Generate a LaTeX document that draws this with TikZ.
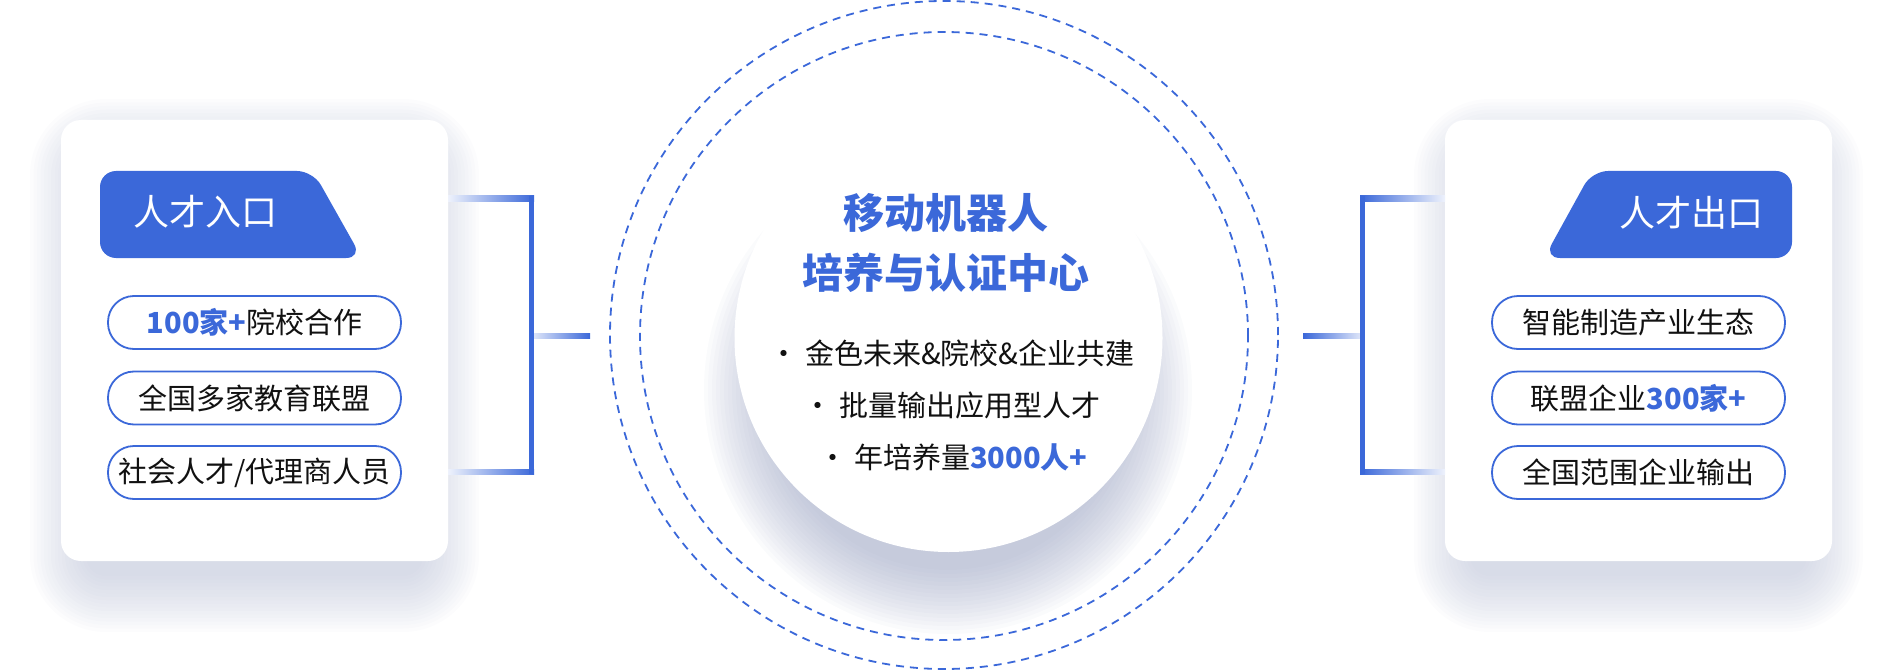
\documentclass[tikz,border=0pt]{standalone}
\usepackage{fontspec}
\setmainfont{Noto Sans CJK SC}
\definecolor{hl}{HTML}{3B68D9}
\definecolor{pale}{HTML}{EEF2FC}
\definecolor{cardshadow}{RGB}{176,184,208}
\definecolor{hubshadow}{RGB}{140,150,185}
\definecolor{ink}{HTML}{111111}
\begin{document}
\begin{tikzpicture}[x=1pt,y=-1pt,
  card/.style={rectangle, fill=white, rounded corners=20pt, minimum width=387pt, minimum height=441pt, inner sep=0pt},
  tabtext/.style={text=white, font=\fontsize{36}{40}\selectfont, inner sep=0pt},
  pill/.style={rectangle, draw=hl, line width=1.8pt, fill=white, rounded corners=26pt, minimum width=293pt, minimum height=53pt, inner sep=0pt, text=ink, font=\fontsize{29}{34}\selectfont},
  ring/.style={circle, draw=hl, line width=1.8pt, dash pattern=on 8pt off 6pt, inner sep=0pt},
  titletext/.style={text=hl, font=\fontsize{41}{48}\selectfont\bfseries, inner sep=0pt},
  bullet/.style={text=ink, font=\fontsize{29}{34}\selectfont, inner sep=0pt},
  num/.style={}]
\useasboundingbox (0,0) rectangle (1894,671);

% ---- soft shadows of the two cards
\foreach \k [evaluate=\k as \e using \k*3.5, evaluate=\k as \r using 20+\k*3.5] in {0,...,16}{
  \fill[cardshadow, fill opacity=0.04, rounded corners=\r pt] ({86-\e},{155-\e}) rectangle ({423+\e},{576+\e});
  \fill[cardshadow, fill opacity=0.04, rounded corners=\r pt] ({1470-\e},{155-\e}) rectangle ({1807+\e},{576+\e});
}

% ---- cards
\node[card] (incard) at (254.5,340.5) {};
\node[card] (outcard) at (1638.5,340.5) {};

% ---- tabs
\fill[hl, rounded corners=16pt] (100,171) -- (313,171) -- (362,258) -- (100,258) -- cycle;
\node[tabtext] (intab) at (205.5,212) {人才入口};
\fill[hl, rounded corners=16pt] (1592,171) -- (1792,171) -- (1792,258) -- (1544,258) -- cycle;
\node[tabtext] (outtab) at (1691,213) {人才出口};

% ---- pills left
\node[pill] (p1) at (254.5,322.5) {{\bfseries\color{hl}100家+}院校合作};
\node[pill] (p2) at (254.5,398) {全国多家教育联盟};
\node[pill] (p3) at (254.5,472.5) {社会人才/代理商人员};
% ---- pills right
\node[pill] (q1) at (1638.5,322.5) {智能制造产业生态};
\node[pill] (q2) at (1638.5,398) {联盟企业{\bfseries\color{hl}300家+}};
\node[pill] (q3) at (1638.5,472.5) {全国范围企业输出};

% ---- hub shadow
\foreach \k [evaluate=\k as \e using 180+\k*4] in {0,...,16}{
  \fill[hubshadow, fill opacity=0.04] (948,390) circle (\e);
}

% ---- dashed rings
\node[ring, minimum size=668pt] (outerring) at (944,335) {};
\node[ring, minimum size=608pt] (innerring) at (944,336) {};

% ---- hub
\node[circle, fill=white, minimum size=428pt, inner sep=0pt] (hub) at (948.5,338) {};
\node[titletext] (t1) at (946,213) {移动机器人};
\node[titletext] (t2) at (946,273) {培养与认证中心};
\node[bullet] (b1) at (952,353) {· 金色未来\&院校\&企业共建};
\node[bullet] (b2) at (952,405) {· 批量输出应用型人才};
\node[bullet] (b3) at (953,457) {· 年培养量{\bfseries\color{hl}3000人+}};

% ---- left bracket connector
\coordinate (L1) at (448,198.5);
\coordinate (L2) at (531.5,198.5);
\coordinate (L3) at (531.5,471.5);
\coordinate (L4) at (448,471.5);
\coordinate (L5) at (531.5,335.5);
\coordinate (L6) at (590,335.5);
\shade[left color=pale, right color=hl] (448,196) rectangle (534,201);
\shade[left color=pale, right color=hl] (448,469) rectangle (534,474);
\shade[left color=pale!60!hl!40, right color=hl] (534,333) rectangle (590,338);
\draw[hl, line width=5pt, line cap=rect] (L2) -- (L3);

% ---- right bracket connector
\coordinate (R1) at (1445,198.5);
\coordinate (R2) at (1362.5,198.5);
\coordinate (R3) at (1362.5,471.5);
\coordinate (R4) at (1445,471.5);
\coordinate (R5) at (1362.5,335.5);
\coordinate (R6) at (1303,335.5);
\shade[left color=hl, right color=pale] (1360,196) rectangle (1445,201);
\shade[left color=hl, right color=pale] (1360,469) rectangle (1445,474);
\shade[left color=hl, right color=pale!60!hl!40] (1303,333) rectangle (1360,338);
\draw[hl, line width=5pt, line cap=rect] (R2) -- (R3);
\end{tikzpicture}
\end{document}
